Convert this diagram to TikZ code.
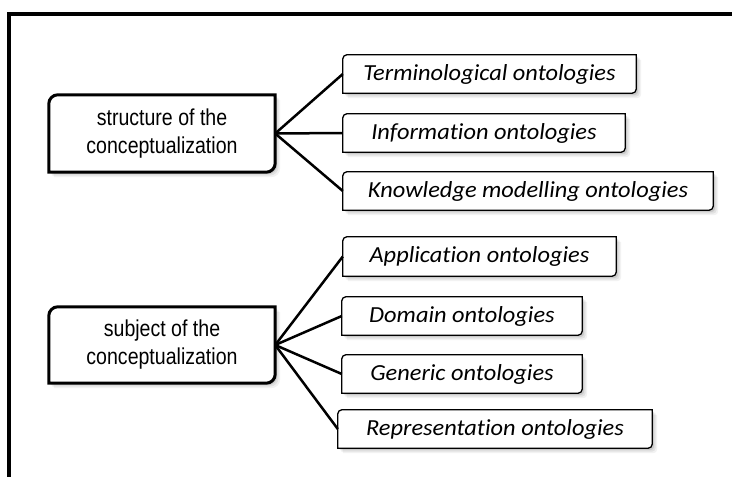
\documentclass[tikz,border=0pt]{standalone}
\usepackage{fontspec}
\newfontfamily\carl[FakeStretch=1.06,Ligatures=NoCommon]{Carlito}
\newfontfamily\arialn[FakeStretch=0.85]{Liberation Sans}
\usetikzlibrary{backgrounds}
\begin{document}
\begin{tikzpicture}[x=1pt,y=-1pt]
\useasboundingbox (0,0) rectangle (732,477);
\tikzset{
 parent/.style={minimum width=226pt, minimum height=77pt, inner sep=0pt, align=center,
   font=\arialn\fontsize{23}{28}\selectfont},
 child/.style={minimum height=38pt, inner sep=0pt, font=\carl\itshape\fontsize{23}{28}\selectfont},
 link/.style={line width=2.5pt},
 frame/.style={line width=3.5pt, line join=miter}
}
\draw[frame] (740,14) -- (9,14) -- (9,485);

\node[parent] (p1) at (162,133.5) {structure of the\\conceptualization};
\node[parent, minimum height=76pt] (p2) at (162,345) {subject of the\\conceptualization};

\node[child, minimum width=293pt] (c1) at (489.5,74) {Terminological ontologies};
\node[child, minimum width=282pt] (c2) at (484,133) {Information ontologies};
\node[child, minimum width=370pt] (c3) at (528,191) {Knowledge modelling ontologies};
\node[child, minimum width=273pt, minimum height=39pt] (c4) at (479.5,256.5) {Application ontologies};
\node[child, minimum width=240pt] (c5) at (462,316) {Domain ontologies};
\node[child, minimum width=240pt] (c6) at (462,374) {Generic ontologies};
\node[child, minimum width=314pt] (c7) at (495,429) {Representation ontologies};

\begin{scope}[on background layer]
\foreach \n/\rad/\lw in {p1/9pt/3pt, p2/9pt/3pt, c1/4pt/1.3pt, c2/4pt/1.3pt, c3/4pt/1.3pt,
    c4/4pt/1.3pt, c5/4pt/1.3pt, c6/4pt/1.3pt, c7/4pt/1.3pt}{
  \foreach \sh/\op in {5/0.05,3.5/0.07,2/0.1}{
    \fill[black,opacity=\op] ([shift={(\sh pt,-\sh pt)}]\n.south west)
      -- ([shift={(\sh pt,-\sh pt)},yshift=-\rad]\n.north west)
      arc[start angle=180,end angle=90,radius=\rad]
      -- ([shift={(\sh pt,-\sh pt)}]\n.north east)
      -- ([shift={(\sh pt,-\sh pt)},yshift=\rad]\n.south east)
      arc[start angle=0,end angle=-90,radius=\rad] -- cycle;
  }
  \filldraw[fill=white,line width=\lw] (\n.south west)
    -- ([yshift=-\rad]\n.north west) arc[start angle=180,end angle=90,radius=\rad]
    -- (\n.north east)
    -- ([yshift=\rad]\n.south east) arc[start angle=0,end angle=-90,radius=\rad] -- cycle;
}
\end{scope}

\foreach \c in {c1,c2,c3} \draw[link] (p1.east) -- (\c.west);
\foreach \c in {c4,c5,c6,c7} \draw[link] (p2.east) -- (\c.west);
\end{tikzpicture}
\end{document}
